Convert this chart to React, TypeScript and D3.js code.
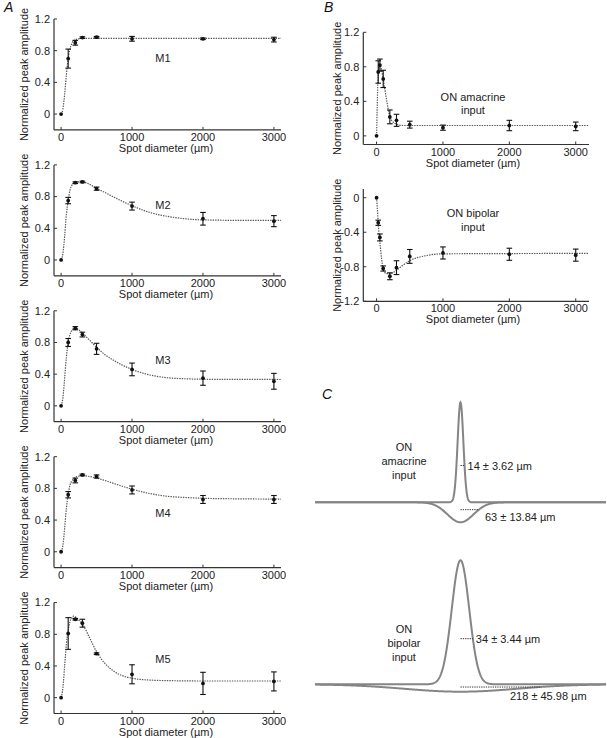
import React from "react";
import * as d3 from "d3";

const FONT = "'Liberation Sans', Arial, Helvetica, sans-serif";

// ---------- Panel A data ----------
const spotDiameters = [0, 100, 200, 300, 500, 1000, 2000, 3000];
const m1Mean = [0, 0.7, 0.9, 0.965, 0.97, 0.95, 0.95, 0.94];
const m1Err = [0, 0.12, 0.03, 0.01, 0.01, 0.03, 0.01, 0.03];
const m2Mean = [0, 0.75, 0.975, 0.985, 0.9, 0.68, 0.52, 0.49];
const m2Err = [0, 0.04, 0.01, 0.01, 0.02, 0.05, 0.08, 0.07];
const m3Mean = [0, 0.8, 0.98, 0.9, 0.72, 0.46, 0.35, 0.31];
const m3Err = [0, 0.05, 0.02, 0.03, 0.07, 0.08, 0.09, 0.1];
const m4Mean = [0, 0.72, 0.9, 0.97, 0.95, 0.78, 0.66, 0.66];
const m4Err = [0, 0.04, 0.03, 0.01, 0.02, 0.05, 0.05, 0.05];
const m5Mean = [0, 0.81, 0.99, 0.94, 0.555, 0.295, 0.18, 0.205];
const m5Err = [0, 0.2, 0.01, 0.05, 0.01, 0.12, 0.14, 0.12];

const fitXA = [0, 25, 50, 75, 100, 125, 150, 175, 200, 250, 300, 400, 500, 600, 750, 1000, 1250, 1500, 1750, 2000, 2500, 3100];
const m1Fit = [0, 0.06, 0.25, 0.5, 0.7, 0.82, 0.89, 0.925, 0.94, 0.95, 0.955, 0.955, 0.955, 0.955, 0.955, 0.955, 0.955, 0.955, 0.955, 0.955, 0.955, 0.955];
const m2Fit = [0, 0.08, 0.3, 0.58, 0.75, 0.88, 0.94, 0.965, 0.975, 0.985, 0.985, 0.955, 0.9, 0.86, 0.79, 0.685, 0.6, 0.55, 0.52, 0.506, 0.5, 0.5];
const m3Fit = [0, 0.1, 0.35, 0.62, 0.8, 0.9, 0.95, 0.975, 0.98, 0.96, 0.92, 0.83, 0.74, 0.66, 0.57, 0.46, 0.39, 0.355, 0.342, 0.336, 0.334, 0.333];
const m4Fit = [0, 0.08, 0.3, 0.55, 0.72, 0.84, 0.89, 0.92, 0.94, 0.955, 0.96, 0.95, 0.93, 0.905, 0.86, 0.79, 0.735, 0.7, 0.685, 0.675, 0.668, 0.665];
const m5Fit = [0, 0.12, 0.4, 0.68, 0.85, 0.96, 1.01, 1.03, 1.02, 0.98, 0.93, 0.76, 0.58, 0.45, 0.33, 0.245, 0.222, 0.215, 0.212, 0.21, 0.21, 0.21];

const cellNames = ["M1", "M2", "M3", "M4", "M5"];
const cellLabelY = [0.71, 0.695, 0.58, 0.49, 0.48];

// ---------- Panel B data ----------
const spotDiametersB = [0, 25, 50, 100, 200, 300, 500, 1000, 2000, 3000];
const amacrineMean = [0, 0.74, 0.82, 0.66, 0.22, 0.18, 0.13, 0.095, 0.12, 0.11];
const amacrineErr = [0, 0.13, 0.07, 0.1, 0.08, 0.07, 0.04, 0.03, 0.06, 0.05];
const bipolarMean = [0, -0.29, -0.46, -0.82, -0.91, -0.81, -0.68, -0.64, -0.655, -0.665];
const bipolarErr = [0, 0.03, 0.04, 0.03, 0.04, 0.08, 0.08, 0.07, 0.07, 0.07];
const fitXB = [0, 10, 20, 30, 40, 50, 75, 100, 150, 200, 250, 300, 400, 500, 750, 1000, 3200];
const amacrineFit = [0, 0.35, 0.65, 0.78, 0.82, 0.82, 0.76, 0.66, 0.42, 0.22, 0.16, 0.135, 0.12, 0.12, 0.12, 0.12, 0.12];
const bipolarFit = [0, -0.11, -0.23, -0.35, -0.45, -0.52, -0.7, -0.83, -0.88, -0.88, -0.865, -0.84, -0.78, -0.73, -0.67, -0.65, -0.645];

// ---------- Panel C data ----------
const inputNames = [["ON", "amacrine", "input"], ["ON", "bipolar", "input"]];
const centerRadius = [14, 34];
const centerSem = [3.62, 3.44];
const surroundRadius = [63, 218];
const surroundSem = [13.84, 45.98];
const centerAmp = [1.0, 1.24];
const surroundAmp = [0.2, 0.074];

const xTicks = [0, 1000, 2000, 3000];
const yTicksPos = [0, 0.4, 0.8, 1.2];
const yTicksNeg = [0, -0.4, -0.8, -1.2];

type PlotProps = {
  x: d3.ScaleLinear<number, number>;
  y: d3.ScaleLinear<number, number>;
  yTicks: number[];
  xs: number[];
  mean: number[];
  err: number[];
  fitX: number[];
  fitY: number[];
  titleX: number;
  yTitleX: number;
};

function Plot({ x, y, yTicks, xs, mean, err, fitX, fitY, titleX, yTitleX }: PlotProps) {
  const [x0, x1] = x.range();
  const [yb, yt] = y.range();
  const line = d3
    .line<number>()
    .x((_, i) => x(fitX[i]))
    .y((d) => y(d))
    .curve(d3.curveMonotoneX);
  const axisColor = "#333";
  return (
    <g fontFamily={FONT}>
      <path d={line(fitY) || ""} fill="none" stroke="#555" strokeWidth={1.2} strokeDasharray="1.4,1.1" />
      <line x1={x0} x2={x0} y1={yt} y2={yb} stroke={axisColor} strokeWidth={1.2} />
      <line x1={x0} x2={x1} y1={yb} y2={yb} stroke={axisColor} strokeWidth={1.2} />
      {yTicks.map((t) => (
        <g key={"y" + t}>
          <line x1={x0} x2={x0 + 3} y1={y(t)} y2={y(t)} stroke={axisColor} strokeWidth={1} />
          <text x={x0 - 4} y={y(t)} dy="0.35em" textAnchor="end" fontSize={11} fill="#222">
            {String(t)}
          </text>
        </g>
      ))}
      {xTicks.map((t) => (
        <g key={"x" + t}>
          <line x1={x(t)} x2={x(t)} y1={yb} y2={yb - 3} stroke={axisColor} strokeWidth={1} />
          <text x={x(t)} y={yb + 11} textAnchor="middle" fontSize={11} fill="#222">
            {String(t)}
          </text>
        </g>
      ))}
      <text x={titleX} y={yb + 22} textAnchor="middle" fontSize={11} fill="#222">
        Spot diameter (µm)
      </text>
      <text
        transform={`translate(${yTitleX},${(yt + yb) / 2}) rotate(-90)`}
        dy="0.35em"
        textAnchor="middle"
        fontSize={11}
        fill="#222"
      >
        Normalized peak amplitude
      </text>
      {xs.map((d, i) =>
        err[i] > 0 ? (
          <g key={"e" + i} stroke="#111" strokeWidth={1.1}>
            <line x1={x(d)} x2={x(d)} y1={y(mean[i] - err[i])} y2={y(mean[i] + err[i])} />
            <line x1={x(d) - 2.8} x2={x(d) + 2.8} y1={y(mean[i] - err[i])} y2={y(mean[i] - err[i])} />
            <line x1={x(d) - 2.8} x2={x(d) + 2.8} y1={y(mean[i] + err[i])} y2={y(mean[i] + err[i])} />
          </g>
        ) : null
      )}
      {xs.map((d, i) => (
        <circle key={"p" + i} cx={x(d)} cy={y(mean[i])} r={1.9} fill="#111" />
      ))}
    </g>
  );
}

function gauss(d: number, amp: number, r: number) {
  return amp * Math.exp(-Math.pow(d / r, 2));
}

export default function App() {
  const aMeans = [m1Mean, m2Mean, m3Mean, m4Mean, m5Mean];
  const aErrs = [m1Err, m2Err, m3Err, m4Err, m5Err];
  const aFits = [m1Fit, m2Fit, m3Fit, m4Fit, m5Fit];

  const xA = d3.scaleLinear().domain([-100, 3100]).range([54, 281]);
  const xB = d3.scaleLinear().domain([-200, 3200]).range([363.3, 589]);
  const yBTop = d3.scaleLinear().domain([-0.1, 1.2]).range([144.5, 32.3]);
  const yBBot = d3.scaleLinear().domain([-1.2, 0.1]).range([301.3, 189.1]);

  // Panel C
  const cBaselines = [502.3, 684.3];
  const cHalfWidths = [500, 400];
  const cRows = cBaselines.map((base, r) => {
    const xs = d3.scaleLinear().domain([-cHalfWidths[r], cHalfWidths[r]]).range([315, 606]);
    const ys = d3.scaleLinear().domain([0, 1]).range([base, base - 100]);
    const samples = d3.range(-cHalfWidths[r], cHalfWidths[r] + 0.01, 1);
    const center = d3
      .line<number>()
      .x((d) => xs(d))
      .y((d) => ys(gauss(d, centerAmp[r], centerRadius[r])));
    const surround = d3
      .line<number>()
      .x((d) => xs(d))
      .y((d) => ys(-gauss(d, surroundAmp[r], surroundRadius[r])));
    return { xs, ys, samples, center, surround, base };
  });
  const surroundTextX = [485, 510];
  const surroundTextDy = [19, 16];

  return (
    <svg
      width={607}
      height={738}
      style={{ position: "absolute", left: 0, top: 0, background: "#fff" }}
      fontFamily={FONT}
    >
      <rect width={607} height={738} fill="#fff" />
      <text x={4} y={12} fontSize={14} fontStyle="italic" fill="#111">A</text>
      <text x={324} y={12} fontSize={14} fontStyle="italic" fill="#111">B</text>
      <text x={322} y={399} fontSize={14} fontStyle="italic" fill="#111">C</text>

      {aMeans.map((mean, i) => {
        const top = 19 + i * 145.9;
        const yA = d3.scaleLinear().domain([-0.2, 1.2]).range([top + 110.9, top]);
        return (
          <g key={cellNames[i]}>
            <Plot
              x={xA}
              y={yA}
              yTicks={yTicksPos}
              xs={spotDiameters}
              mean={mean}
              err={aErrs[i]}
              fitX={fitXA}
              fitY={aFits[i]}
              titleX={166}
              yTitleX={24}
            />
            <text x={xA(1435)} y={yA(cellLabelY[i])} dy="0.35em" textAnchor="middle" fontSize={11} fill="#222">
              {cellNames[i]}
            </text>
          </g>
        );
      })}

      <Plot
        x={xB}
        y={yBTop}
        yTicks={yTicksPos}
        xs={spotDiametersB}
        mean={amacrineMean}
        err={amacrineErr}
        fitX={fitXB}
        fitY={amacrineFit}
        titleX={473}
        yTitleX={337}
      />
      <text x={473} y={101} textAnchor="middle" fontSize={11} fill="#222">ON amacrine</text>
      <text x={473} y={114} textAnchor="middle" fontSize={11} fill="#222">input</text>

      <Plot
        x={xB}
        y={yBBot}
        yTicks={yTicksNeg}
        xs={spotDiametersB}
        mean={bipolarMean}
        err={bipolarErr}
        fitX={fitXB}
        fitY={bipolarFit}
        titleX={473}
        yTitleX={337}
      />
      <text x={473} y={217} textAnchor="middle" fontSize={11} fill="#222">ON bipolar</text>
      <text x={473} y={231} textAnchor="middle" fontSize={11} fill="#222">input</text>

      {cRows.map((row, r) => {
        const cy = row.ys(centerAmp[r] * Math.exp(-1));
        const sy = row.ys(-surroundAmp[r] * Math.exp(-1));
        const cx1 = row.xs(centerRadius[r]);
        const sx1 = row.xs(surroundRadius[r]);
        return (
          <g key={"c" + r}>
            <path d={row.surround(row.samples) || ""} fill="none" stroke="#858585" strokeWidth={2} />
            <path d={row.center(row.samples) || ""} fill="none" stroke="#858585" strokeWidth={2} />
            <line x1={row.xs(0)} x2={cx1} y1={cy} y2={cy} stroke="#333" strokeWidth={1} strokeDasharray="1.3,1" />
            <line x1={row.xs(0)} x2={sx1} y1={sy} y2={sy} stroke="#333" strokeWidth={1} strokeDasharray="1.3,1" />
            {inputNames[r].map((w, k) => (
              <text key={w + k} x={404} y={row.base - 51 + k * 14} textAnchor="middle" fontSize={11} fill="#222">
                {w}
              </text>
            ))}
            <text x={cx1 + 3} y={cy + 4.5} fontSize={11} fill="#222">
              {`${centerRadius[r]} ± ${centerSem[r]} µm`}
            </text>
            <text x={surroundTextX[r]} y={row.base + surroundTextDy[r]} fontSize={11} fill="#222">
              {`${surroundRadius[r]} ± ${surroundSem[r]} µm`}
            </text>
          </g>
        );
      })}
    </svg>
  );
}
